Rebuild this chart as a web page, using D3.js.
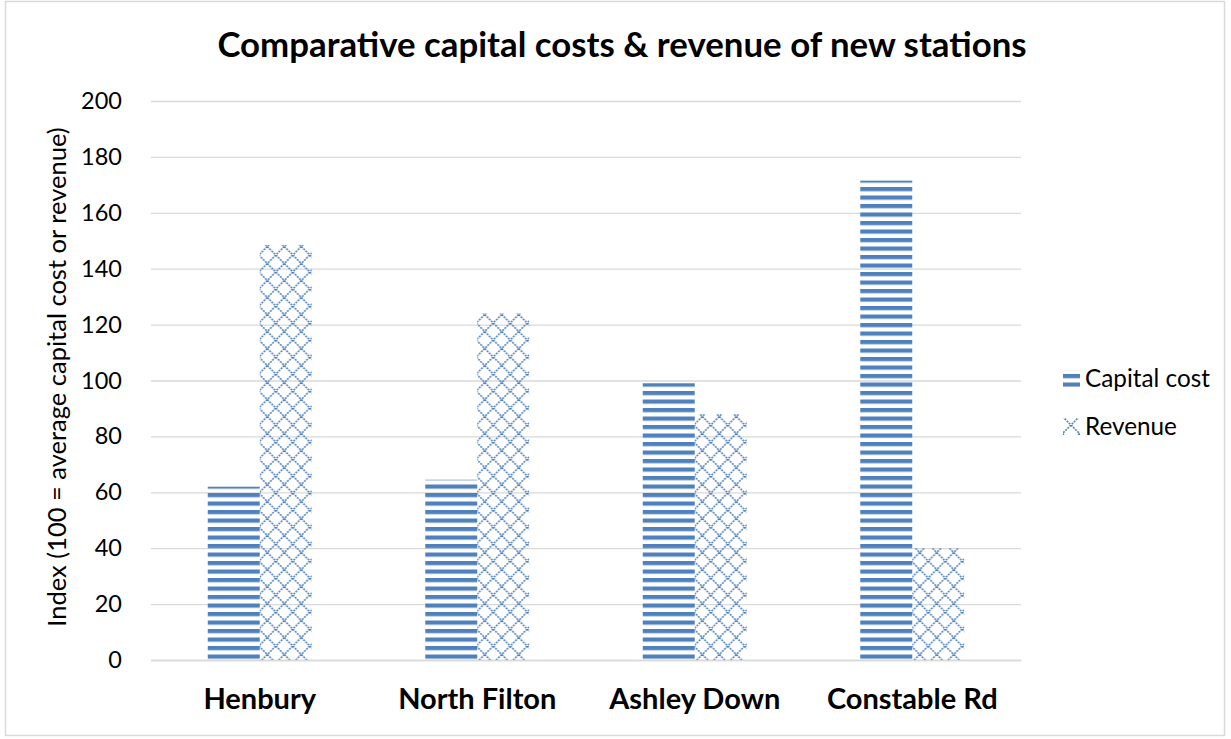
<!DOCTYPE html>
<html><head><meta charset="utf-8">
<script src="https://cdn.jsdelivr.net/npm/d3@7"></script>
<style>body{margin:0;background:#fff}svg{display:block}text{font-family:Lato,"Open Sans",sans-serif}</style>
</head><body>
<svg id="c" width="1231" height="739"></svg>
<script>
const categories = ["Henbury","North Filton","Ashley Down","Constable Rd"];
const capitalCost = [62, 64.5, 99, 171.5];
const revenue = [148.5, 124, 88, 40];
const seriesNames = ["Capital cost","Revenue"];
const yTicks = [0,20,40,60,80,100,120,140,160,180,200];

const svg = d3.select("#c");
const blue = "#4f81bd";
const defs = svg.append("defs");
const ph = defs.append("pattern").attr("id","hstripe").attr("patternUnits","userSpaceOnUse")
  .attr("width",8).attr("height",8.5);
ph.append("rect").attr("x",0).attr("y",0).attr("width",8).attr("height",4.2).attr("fill",blue);
const pc = defs.append("pattern").attr("id","cross").attr("patternUnits","userSpaceOnUse")
  .attr("width",17).attr("height",17);
pc.append("path").attr("d","M0,0L17,17M17,0L0,17").attr("stroke",blue).attr("stroke-width",1.6)
  .attr("stroke-dasharray","2,1");

svg.append("rect").attr("x",5.5).attr("y",1.5).attr("width",1219).attr("height",734)
  .attr("fill","#fff").attr("stroke","#d9d9d9").attr("stroke-width",1.5);

const x0 = 151, x1 = 1021, yTop = 101, yBot = 660;
const y = d3.scaleLinear().domain([0,200]).range([yBot,yTop]);
const x = d3.scaleBand().domain(categories).range([x0,x1]).paddingInner(0.522).paddingOuter(0.261);
const xs = d3.scaleBand().domain(seriesNames).range([0,x.bandwidth()]);

const yAxis = d3.axisLeft(y).tickValues(yTicks).tickSize(-(x1-x0)).tickPadding(29);
const gy = svg.append("g").attr("transform",`translate(${x0},0)`).call(yAxis);
gy.select(".domain").remove();
gy.selectAll(".tick line").attr("stroke","#d9d9d9").attr("stroke-width",1.3);
gy.selectAll(".tick text").attr("font-size",23.5).attr("fill","#000").attr("font-family","Lato,sans-serif");

const data = categories.map((c,i)=>({c, vals:[capitalCost[i],revenue[i]]}));
const groups = svg.append("g").selectAll("g").data(data).join("g")
  .attr("transform",d=>`translate(${x(d.c)},0)`);
groups.selectAll("rect").data(d=>d.vals.map((v,j)=>({v,s:seriesNames[j]}))).join("rect")
  .attr("x",d=>xs(d.s)).attr("width",xs.bandwidth())
  .attr("y",d=>y(d.v)).attr("height",d=>y(0)-y(d.v))
  .attr("fill",d=>d.s==="Capital cost"?"url(#hstripe)":"url(#cross)");

const gx = svg.append("g").attr("transform",`translate(0,${yBot})`)
  .call(d3.axisBottom(x).tickSize(0).tickPadding(28));
gx.select(".domain").attr("stroke","#d9d9d9").attr("stroke-width",1.3);
gx.selectAll(".tick text").attr("font-size",29).attr("font-weight","bold").attr("fill","#000").attr("font-family","Lato,sans-serif");

svg.append("text").attr("x",622).attr("y",57).attr("text-anchor","middle")
  .attr("font-size",34.8).attr("font-weight","bold").text("Comparative capital costs & revenue of new stations");

svg.append("text").attr("transform","translate(66,377) rotate(-90)").attr("text-anchor","middle")
  .attr("font-size",25.5).text("Index (100 = average capital cost or revenue)");

const lg = svg.append("g");
seriesNames.forEach((s,i)=>{
  const yy = 379 + i*48;
  lg.append("rect").attr("x",1063).attr("y",yy-9).attr("width",17).attr("height",17)
    .attr("fill",i===0?"url(#hstripe)":"url(#cross)");
  lg.append("text").attr("x",1085).attr("y",yy+8).attr("font-size",24.3).text(s);
});
</script>
</body></html>
